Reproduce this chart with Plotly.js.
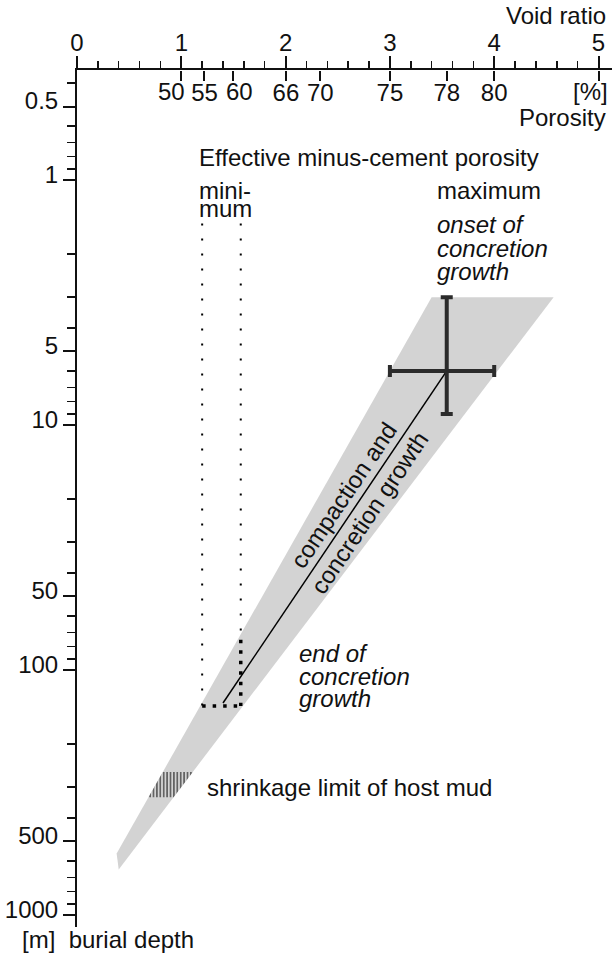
<!DOCTYPE html>
<html><head><meta charset="utf-8">
<script src="https://cdn.plot.ly/plotly-3.0.1.min.js"></script>
<style>html,body{margin:0;padding:0;background:#fff}#chart{width:612px;height:955px}</style>
</head><body><div id="chart"></div>
<script>
// ---- data ----
const voidRatioTicks = [0, 1, 2, 3, 4, 5];
const voidRatioMinor = [0.2,0.4,0.6,0.8,1.2,1.4,1.6,1.8,2.2,2.4,2.6,2.8,3.2,3.4,3.6,3.8,4.2,4.4,4.6,4.8];
const porosityTicks = [50, 55, 60, 66.7, 70, 75, 78, 80];
const porosityLabels = ['50', '55', '60', '66', '70', '75', '78', '80'];
const porosityUnitLabel = '[%]';
const depthMajor = [0.5, 1, 5, 10, 50, 100, 500, 1000];
const depthMinor = [0.4,0.6,0.7,0.8,0.9,2,3,4,6,7,8,9,20,30,40,60,70,80,90,200,300,400,600,700,800,900];

// effective minus-cement porosity band (void ratio, depth m)
const bandVoid  = [3.40, 4.57, 0.40, 0.38];
const bandDepth = [3, 3, 650, 560];

// onset of concretion growth (cross)
const onsetVoid = 3.545, onsetVoidLow = 3.0, onsetVoidHigh = 4.0;
const onsetDepth = 6, onsetDepthLow = 3, onsetDepthHigh = 9;

// compaction and concretion growth path
const pathVoid  = [3.545, 1.40];
const pathDepth = [6, 136];

// minimum effective porosity (dotted bounds)
const minVoidLow = 1.20, minVoidHigh = 1.57;
const minDepthTop = 1.5, minDepthDense = 75, minDepthEnd = 140;

// shrinkage limit of host mud (depth range)
const shrinkDepthTop = 260, shrinkDepthBottom = 330;

const porosityToVoid = n => n / (100 - n);

// ---- geometry helpers ----
const L = Math.log10;
function edgeAt(v0, d0, v1, d1, d) { const t = (L(d) - L(d0)) / (L(d1) - L(d0)); return v0 + t * (v1 - v0); }
const leftAt  = d => edgeAt(bandVoid[0], bandDepth[0], bandVoid[3], bandDepth[3], d);
const rightAt = d => edgeAt(bandVoid[1], bandDepth[1], bandVoid[2], bandDepth[2], d);

const W = 612, H = 955, M = {l: 77, r: 0, t: 70, b: 28};
const PW = W - M.l - M.r, PH = H - M.t - M.b;
const FONT = 'Liberation Sans, Arial, sans-serif';
const FS = 24;
const INK = '#111';
const XSCALE = 104.3;

const traces = [
  {x: bandVoid.concat([bandVoid[0]]), y: bandDepth.concat([bandDepth[0]]), mode: 'lines', fill: 'toself',
   fillcolor: '#d3d3d3', line: {width: 0, color: '#d3d3d3'}, hoverinfo: 'skip', xaxis: 'x', yaxis: 'y'},
  {x: [leftAt(shrinkDepthTop), rightAt(shrinkDepthTop), rightAt(shrinkDepthBottom), leftAt(shrinkDepthBottom), leftAt(shrinkDepthTop)],
   y: [shrinkDepthTop, shrinkDepthTop, shrinkDepthBottom, shrinkDepthBottom, shrinkDepthTop],
   mode: 'lines', fill: 'toself', fillcolor: '#d3d3d3', line: {width: 0},
   fillpattern: {shape: '|', size: 3.4, solidity: 0.35, fgcolor: '#333', bgcolor: '#d3d3d3'}, hoverinfo: 'skip'},
  {x: pathVoid, y: pathDepth, mode: 'lines', line: {color: '#000', width: 1.5}, hoverinfo: 'skip'},
  {x: [minVoidLow, minVoidLow], y: [minDepthTop, minDepthEnd], mode: 'lines', line: {color: '#000', width: 2, dash: '2px,13px'}, hoverinfo: 'skip'},
  {x: [minVoidHigh, minVoidHigh], y: [minDepthTop, minDepthDense], mode: 'lines', line: {color: '#000', width: 2, dash: '2px,13px'}, hoverinfo: 'skip'},
  {x: [minVoidHigh, minVoidHigh], y: [minDepthDense, minDepthEnd], mode: 'lines', line: {color: '#000', width: 3.5, dash: '3.5px,7px'}, hoverinfo: 'skip'},
  {x: [minVoidLow, minVoidHigh], y: [minDepthEnd, minDepthEnd], mode: 'lines', line: {color: '#000', width: 3.5, dash: '3.5px,7px'}, hoverinfo: 'skip'},
  {x: [onsetVoid], y: [onsetDepth], mode: 'markers', marker: {size: 1, color: '#2b2b2b'},
   error_x: {type: 'data', symmetric: false, array: [onsetVoidHigh - onsetVoid], arrayminus: [onsetVoid - onsetVoidLow], color: '#2b2b2b', thickness: 4, width: 6},
   error_y: {type: 'data', symmetric: false, array: [onsetDepthHigh - onsetDepth], arrayminus: [onsetDepth - onsetDepthLow], color: '#2b2b2b', thickness: 4, width: 6},
   hoverinfo: 'skip'},
  // invisible trace to activate the porosity axis
  {x: [0], y: [1], xaxis: 'x2', yaxis: 'y', mode: 'markers', marker: {opacity: 0}, hoverinfo: 'skip'}
];

function px(xp) { return (xp - M.l) / PW; }
function py(yp) { return (H - M.b - yp) / PH; }
function txt(text, xp, yp, opts) {
  return Object.assign({text: text, xref: 'paper', yref: 'paper', x: px(xp), y: py(yp), xanchor: 'left', yanchor: 'middle',
    showarrow: false, font: {family: FONT, size: FS, color: INK}}, opts || {});
}
const italic = {font: {family: FONT, size: FS, color: INK, style: 'italic'}};

// porosity labels that sit beside their ticks in the reference (drawn as annotations, nudged sideways)
const porTickPx = n => M.l + porosityToVoid(n) * XSCALE;
const shiftedPorosity = {'50': -10, '60': 6};
const PORO_Y = 92;

const annotations = [
  txt('Void ratio', 608, 16, {xanchor: 'right'}),
  txt('Porosity', 608, 118, {xanchor: 'right'}),
  txt(porosityUnitLabel, M.l + 5 * XSCALE - 8, PORO_Y, {xanchor: 'center'}),
  txt('Effective minus-cement porosity', 197, 157),
  txt('mini-', 197, 191),
  txt('mum', 197, 209),
  txt('maximum', 435, 190),
  txt('onset of', 435, 225, italic),
  txt('concretion', 435, 248, italic),
  txt('growth', 435, 271, italic),
  txt('end of', 297, 653, italic),
  txt('concretion', 297, 676, italic),
  txt('growth', 297, 698, italic),
  txt('shrinkage limit of host mud', 205, 787),
  txt('[m]  burial depth', 20, 939),
  {text: 'compaction and<br>concretion growth', xref: 'x', yref: 'y', x: 2.68, y: L(21), textangle: -56,
   showarrow: false, font: {family: FONT, size: FS, color: INK}, xanchor: 'center', yanchor: 'middle'}
];
porosityTicks.forEach((n, i) => {
  const lab = porosityLabels[i];
  if (lab in shiftedPorosity) annotations.push(txt(lab, porTickPx(n) + shiftedPorosity[lab], PORO_Y, {xanchor: 'center'}));
});
const porosityTickText = porosityLabels.map(l => (l in shiftedPorosity) ? '' : l);

const xr = [0, PW / XSCALE];
const layout = {
  width: W, height: H, margin: M, paper_bgcolor: '#fff', plot_bgcolor: '#fff', showlegend: false,
  font: {family: FONT, size: FS, color: INK},
  xaxis: {range: xr, side: 'top', showline: true, linecolor: INK, linewidth: 2, zeroline: false, showgrid: false,
    ticks: 'outside', tickmode: 'array', tickvals: voidRatioTicks, ticklen: 12, tickwidth: 2, tickcolor: INK,
    ticklabelstandoff: -5, tickangle: 0,
    tickfont: {family: FONT, size: FS, color: INK},
    minor: {tickmode: 'array', tickvals: voidRatioMinor, ticks: 'outside', ticklen: 7, tickwidth: 1.5, tickcolor: INK, showgrid: false}},
  xaxis2: {range: xr, overlaying: 'x', anchor: 'free', position: 1, side: 'bottom', showline: false, zeroline: false, showgrid: false,
    ticks: 'outside', tickmode: 'array', tickangle: 0, ticklabelstandoff: -9, ticklabeloverflow: 'allow',
    tickvals: porosityTicks.map(porosityToVoid).concat([5]), ticktext: porosityTickText.concat(['']),
    ticklen: 10, tickwidth: 2, tickcolor: INK, tickfont: {family: FONT, size: FS, color: INK}},
  yaxis: {type: 'log', range: [L(1000) + 0.048, -0.45], showline: true, linecolor: INK, linewidth: 2, zeroline: false, showgrid: false,
    ticks: 'outside', tickmode: 'array', tickvals: depthMajor, ticktext: depthMajor.map(String), ticklen: 12, tickwidth: 2, tickcolor: INK,
    ticklabelshift: 6, tickfont: {family: FONT, size: FS, color: INK},
    minor: {tickmode: 'array', tickvals: depthMinor, ticks: 'outside', ticklen: 8, tickwidth: 1.5, tickcolor: INK, showgrid: false}},
  annotations: annotations
};

Plotly.newPlot('chart', traces, layout, {staticPlot: true, displayModeBar: false});
</script></body></html>
